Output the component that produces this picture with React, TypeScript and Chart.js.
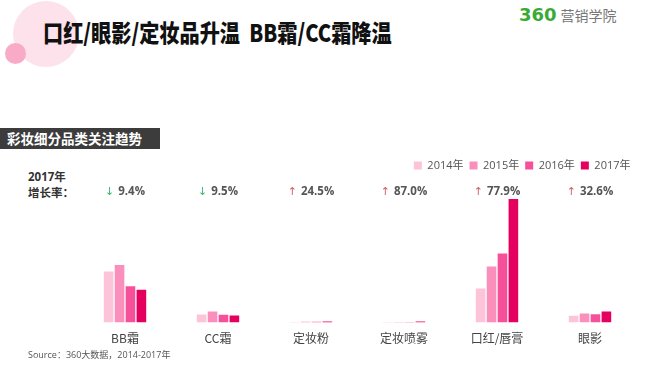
import React, { useEffect, useRef } from "react";
import { Chart, registerables } from "chart.js";

Chart.register(...registerables);

const categories = ["BB霜", "CC霜", "定妆粉", "定妆喷雾", "口红/唇膏", "眼影"];
const years = ["2014年", "2015年", "2016年", "2017年"];
const s2014 = [51.5, 8.2, 0.6, 0.5, 34.2, 6.8];
const s2015 = [58, 11.2, 0.8, 0.5, 56.5, 9.2];
const s2016 = [36.5, 7.8, 0.9, 0.6, 69.5, 8.5];
const s2017 = [33, 7.2, 1.1, 1.1, 124.5, 11.2];
const growth = [-9.4, -9.5, 24.5, 87.0, 77.9, 32.6];
const colors = ["#fdc3d8", "#fb8fbb", "#f7509a", "#e5005f"];

const FONT = "'Open Sans', 'Noto Sans CJK SC', sans-serif";
const CJK = "'Noto Sans CJK SC', sans-serif";

const growthPlugin = {
  id: "growthLabels",
  afterDraw(chart: any) {
    const { ctx, chartArea } = chart;
    const x = chart.scales.x;
    const y = chartArea.top + 11;
    ctx.save();
    ctx.textBaseline = "middle";
    growth.forEach((g, i) => {
      const cx = x.getPixelForValue(i);
      const arrow = g < 0 ? "↓" : "↑";
      const txt = Math.abs(g).toFixed(1) + "%";
      ctx.font = `bold 11.5px ${FONT}`;
      const tw = ctx.measureText(txt).width;
      ctx.font = `11px 'DejaVu Sans', sans-serif`;
      const aw = ctx.measureText(arrow).width;
      const gap = 4;
      const total = aw + gap + tw;
      const sx = cx - total / 2;
      ctx.fillStyle = g < 0 ? "#3cb371" : "#d0605f";
      ctx.textAlign = "left";
      ctx.fillText(arrow, sx, y);
      ctx.font = `bold 11.5px ${FONT}`;
      ctx.fillStyle = "#555555";
      ctx.fillText(txt, sx + aw + gap, y);
    });
    ctx.restore();
  },
};

function BarChart() {
  const ref = useRef<HTMLCanvasElement | null>(null);
  useEffect(() => {
    if (!ref.current) return;
    const series = [s2014, s2015, s2016, s2017];
    const chart = new Chart(ref.current, {
      type: "bar",
      data: {
        labels: categories,
        datasets: years.map((yr, i) => ({
          label: yr,
          data: series[i],
          backgroundColor: colors[i],
          borderWidth: 0,
          categoryPercentage: 0.47,
          barPercentage: 0.88,
        })),
      },
      options: {
        animation: false,
        responsive: false,
        maintainAspectRatio: false,
        layout: { padding: { left: 78.5, right: 13.5, top: 4, bottom: 4 } },
        plugins: {
          legend: {
            position: "top",
            align: "end",
            labels: {
              boxWidth: 8,
              boxHeight: 8,
              padding: 6,
              color: "#555555",
              font: { size: 11, family: FONT },
            },
          },
          tooltip: { enabled: false },
        },
        scales: {
          x: {
            grid: { display: false, drawTicks: false },
            border: { display: false },
            ticks: { color: "#444444", padding: 9, font: { size: 12, family: CJK } },
          },
          y: {
            display: false,
            min: 0,
            max: 142.5,
          },
        },
      },
      plugins: [growthPlugin],
    });
    return () => chart.destroy();
  }, []);
  return (
    <canvas
      ref={ref}
      width={650}
      height={209}
      style={{ position: "absolute", left: 0, top: 150, width: 650, height: 209 }}
    />
  );
}

export default function App() {
  return (
    <div
      style={{
        position: "absolute",
        left: 0,
        top: 0,
        width: 650,
        height: 366,
        background: "#ffffff",
        overflow: "hidden",
        fontFamily: FONT,
      }}
    >
      <div
        style={{
          position: "absolute",
          left: 13,
          top: 1,
          width: 66,
          height: 66,
          borderRadius: "50%",
          background: "#fde1eb",
        }}
      />
      <div
        style={{
          position: "absolute",
          left: 5,
          top: 43,
          width: 21,
          height: 21,
          borderRadius: "50%",
          background: "#f9aac7",
        }}
      />
      <div
        style={{
          position: "absolute",
          left: 43,
          top: 17,
          fontFamily: CJK,
          fontWeight: 900,
          fontSize: 24,
          lineHeight: "30px",
          color: "#111111",
          whiteSpace: "pre",
          transform: "scaleX(0.84)",
          transformOrigin: "left center",
        }}
      >
        口红/眼影/定妆品升温  BB霜/CC霜降温
      </div>
      <div
        style={{
          position: "absolute",
          left: 519,
          top: 5,
          whiteSpace: "pre",
          lineHeight: "20px",
        }}
      >
        <span style={{ color: "#3aaa35", fontWeight: 700, fontSize: 18, fontFamily: "'DejaVu Sans', sans-serif" }}>360</span>
        <span style={{ color: "#777777", fontSize: 14, fontFamily: CJK, marginLeft: 4 }}>营销学院</span>
      </div>
      <div
        style={{
          position: "absolute",
          left: 0,
          top: 128,
          width: 160,
          height: 21,
          background: "#3c3c3c",
        }}
      />
      <div
        style={{
          position: "absolute",
          left: 7,
          top: 128,
          height: 21,
          lineHeight: "21px",
          color: "#ffffff",
          fontWeight: 700,
          fontSize: 13.5,
          fontFamily: CJK,
          whiteSpace: "pre",
        }}
      >
        彩妆细分品类关注趋势
      </div>
      <div
        style={{
          position: "absolute",
          left: 28,
          top: 169,
          lineHeight: "16px",
          color: "#333333",
          fontWeight: 700,
          fontSize: 11.5,
          fontFamily: FONT,
        }}
      >
        <div>2017年</div>
        <div>增长率：</div>
      </div>
      <BarChart />
      <div
        style={{
          position: "absolute",
          left: 28,
          top: 349,
          fontSize: 9,
          lineHeight: "12px",
          color: "#555555",
          fontFamily: FONT,
          whiteSpace: "pre",
        }}
      >
        Source：360大数据，2014-2017年
      </div>
    </div>
  );
}
